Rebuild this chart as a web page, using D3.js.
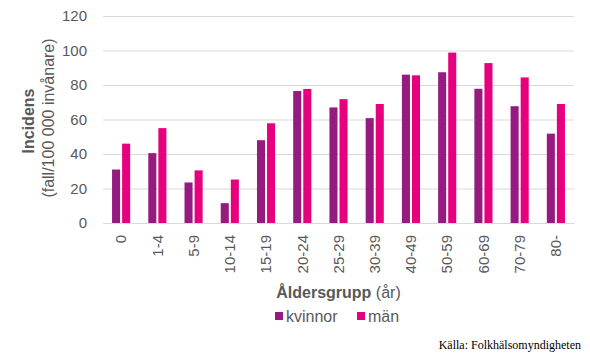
<!DOCTYPE html>
<html lang="sv">
    <head>
        <meta charset="utf-8">
        <title>Incidens per åldersgrupp</title>
        <script src="https://d3js.org/d3.v7.min.js"></script>
        <style>
            * {
                margin: 0;
                padding: 0;
            }
            body {
                background-color: white;
                width: 590px;
                height: 354px;
                overflow: hidden;
            }
            svg text {
                font-family: "Liberation Sans", Arial, sans-serif;
            }
        </style>
    </head>
    <body>
        <main></main>
        <script>

            const ageGroups = ["0", "1-4", "5-9", "10-14", "15-19", "20-24", "25-29", "30-39", "40-49", "50-59", "60-69", "70-79", "80-"];
            const kvinnor = [31, 40.5, 23.5, 11.5, 48, 76.5, 67, 60.8, 86, 87.4, 77.8, 67.7, 51.8];
            const man = [46, 55, 30.5, 25.2, 57.8, 77.7, 71.8, 69, 85.6, 98.8, 92.7, 84.4, 69];
            const seriesNames = ["kvinnor", "män"];
            const seriesColors = ["#951B81", "#E6007E"];
            const yTicks = [0, 20, 40, 60, 80, 100, 120];

            const w = 590;
            const h = 354;
            const plotLeft = 103;
            const plotRight = 574;
            const plotTop = 16;
            const plotBottom = 223;
            const textGrey = "#595959";

            const rows = ageGroups.map((g, i) => ({ group: g, values: [kvinnor[i], man[i]] }));

            const svg = d3.select("main")
                .append("svg")
                .attr("width", w)
                .attr("height", h);

            const xScale = d3.scaleBand()
                .domain(ageGroups)
                .range([plotLeft, plotRight])
                .paddingInner(0.5)
                .paddingOuter(0.25);

            const xInner = d3.scaleBand()
                .domain(seriesNames)
                .range([0, xScale.bandwidth()])
                .paddingInner(0.2);

            const yScale = d3.scaleLinear()
                .domain([0, 120])
                .range([plotBottom, plotTop]);

            // gridlines + y labels
            const yAxis = d3.axisLeft(yScale)
                .tickValues(yTicks)
                .tickSize(-(plotRight - plotLeft))
                .tickPadding(16);

            const gy = svg.append("g")
                .attr("transform", `translate(${plotLeft}, 0)`)
                .call(yAxis);
            gy.select(".domain").remove();
            gy.selectAll("line")
                .attr("stroke", "#d9d9d9")
                .attr("stroke-width", 1);
            gy.selectAll("text")
                .attr("fill", textGrey)
                .attr("font-size", "15px")
                .attr("font-family", "Liberation Sans, Arial, sans-serif");

            // bars
            const groups = svg.append("g")
                .selectAll("g")
                .data(rows)
                .enter()
                .append("g")
                .attr("transform", d => `translate(${xScale(d.group)}, 0)`);

            groups.selectAll("rect")
                .data(d => d.values.map((v, i) => ({ name: seriesNames[i], value: v, color: seriesColors[i] })))
                .enter()
                .append("rect")
                .attr("x", d => xInner(d.name))
                .attr("y", d => yScale(d.value))
                .attr("width", xInner.bandwidth())
                .attr("height", d => plotBottom - yScale(d.value))
                .attr("fill", d => d.color);

            // x axis
            const xAxis = d3.axisBottom(xScale)
                .tickSize(0)
                .tickPadding(0);

            const gx = svg.append("g")
                .attr("transform", `translate(0, ${plotBottom})`)
                .call(xAxis);
            gx.select(".domain")
                .attr("stroke", "#d9d9d9");
            gx.selectAll("text")
                .attr("fill", textGrey)
                .attr("font-size", "15px")
                .attr("font-family", "Liberation Sans, Arial, sans-serif")
                .attr("text-anchor", "end")
                .attr("dy", "0.35em")
                .attr("transform", "translate(0, 12) rotate(-90)");

            // y title
            svg.append("text")
                .attr("transform", "translate(34, 121) rotate(-90)")
                .attr("text-anchor", "middle")
                .attr("fill", textGrey)
                .attr("font-size", "16px")
                .attr("font-weight", "bold")
                .text("Incidens");

            svg.append("text")
                .attr("transform", "translate(54, 118) rotate(-90)")
                .attr("text-anchor", "middle")
                .attr("fill", textGrey)
                .attr("font-size", "16px")
                .text("(fall/100 000 invånare)");

            // x title
            const xTitle = svg.append("text")
                .attr("x", (plotLeft + plotRight) / 2)
                .attr("y", 298)
                .attr("text-anchor", "middle")
                .attr("fill", textGrey)
                .attr("font-size", "16px");
            xTitle.append("tspan").attr("font-weight", "bold").text("Åldersgrupp");
            xTitle.append("tspan").text(" (år)");

            // legend
            const legendX = [275, 357];
            const legend = svg.append("g")
                .selectAll("g")
                .data(seriesNames)
                .enter()
                .append("g")
                .attr("transform", (d, i) => `translate(${legendX[i]}, 312)`);

            legend.append("rect")
                .attr("width", 8)
                .attr("height", 8)
                .attr("fill", (d, i) => seriesColors[i]);

            legend.append("text")
                .attr("x", 11)
                .attr("y", 10)
                .attr("fill", textGrey)
                .attr("font-size", "16px")
                .text(d => d);

            // source
            svg.append("text")
                .attr("x", 581)
                .attr("y", 349)
                .attr("text-anchor", "end")
                .attr("fill", "#000")
                .attr("font-size", "12px")
                .style("font-family", "Liberation Serif, Times New Roman, serif")
                .text("Källa: Folkhälsomyndigheten");

        </script>
    </body>
</html>
